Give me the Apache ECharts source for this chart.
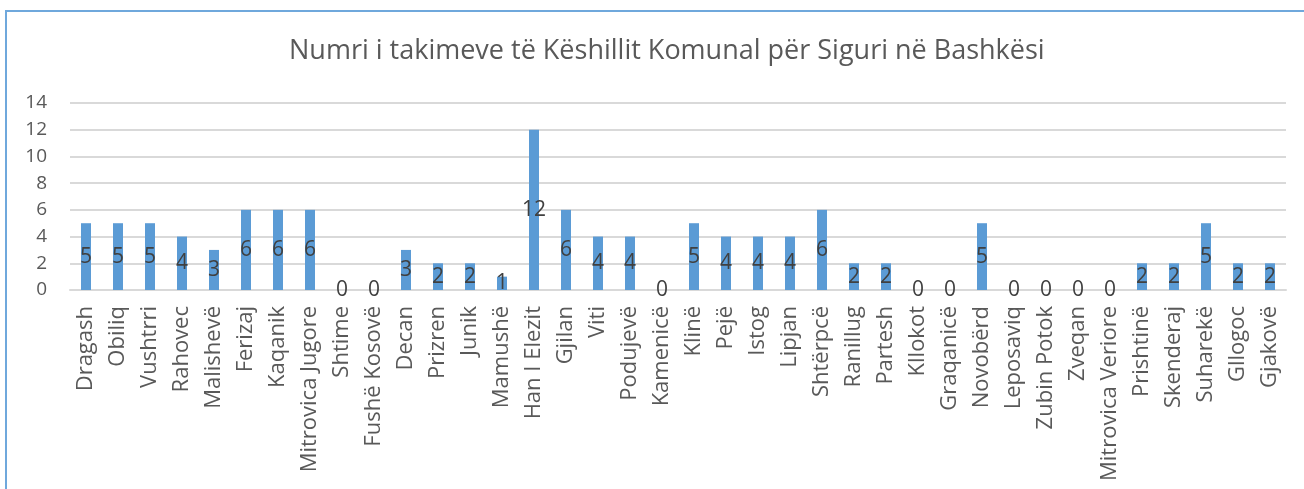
<!DOCTYPE html>
<html>
<head>
<meta charset="utf-8">
<script src="https://cdn.jsdelivr.net/npm/echarts@6/dist/echarts.min.js"></script>
<style>
html,body{margin:0;padding:0;background:#fff;}
#chart{width:1304px;height:489px;}
</style>
</head>
<body>
<div id="chart"></div>
<script>
const titleText = "Numri i takimeve të Këshillit Komunal për Siguri në Bashkësi";
const categories = ["Dragash","Obiliq","Vushtrri","Rahovec","Malishevë","Ferizaj","Kaqanik","Mitrovica Jugore","Shtime","Fushë Kosovë","Decan","Prizren","Junik","Mamushë","Han I Elezit","Gjilan","Viti","Podujevë","Kamenicë","Klinë","Pejë","Istog","Lipjan","Shtërpcë","Ranillug","Partesh","Kllokot","Graqanicë","Novobërd","Leposaviq","Zubin Potok","Zveqan","Mitrovica Veriore","Prishtinë","Skenderaj","Suharekë","Gllogoc","Gjakovë"];
const values = [5,5,5,4,3,6,6,6,0,0,3,2,2,1,12,6,4,4,0,5,4,4,4,6,2,2,0,0,5,0,0,0,0,2,2,5,2,2];
const yMin = 0, yMax = 14, yStep = 2;

const FONT = "'Open Sans', 'Noto Sans', sans-serif";
const chart = echarts.init(document.getElementById('chart'), null, {renderer:'canvas'});
chart.setOption({
  animation:false,
  backgroundColor:'#ffffff',
  graphic:[{
    type:'rect', z:-1, silent:true,
    shape:{x:6, y:11, width:1400, height:600},
    style:{fill:'none', stroke:'#6fa8dc', lineWidth:2}
  }],
  title:{
    text:titleText, left:284, top:33,
    textStyle:{fontFamily:FONT, fontSize:27, fontWeight:'normal', color:'#595959'}
  },
  grid:{left:70, right:18, top:103, bottom:199, containLabel:false},
  xAxis:{
    type:'category', data:categories,
    axisLine:{show:true, lineStyle:{color:'#d9d9d9', width:2}},
    axisTick:{show:false},
    axisLabel:{rotate:90, interval:0, margin:16, fontFamily:FONT, fontSize:22, color:'#595959'}
  },
  yAxis:{
    type:'value', min:yMin, max:yMax, interval:yStep,
    axisLine:{show:false}, axisTick:{show:false},
    splitLine:{lineStyle:{color:'#d9d9d9', width:2}},
    axisLabel:{margin:23, fontFamily:FONT, fontSize:19, color:'#595959'}
  },
  series:[{
    type:'bar', data:values, barWidth:10,
    itemStyle:{color:'#5b9bd5'},
    label:{show:true, position:'inside', fontFamily:FONT, fontSize:21, color:'#404040'}
  }]
});
</script>
</body>
</html>
